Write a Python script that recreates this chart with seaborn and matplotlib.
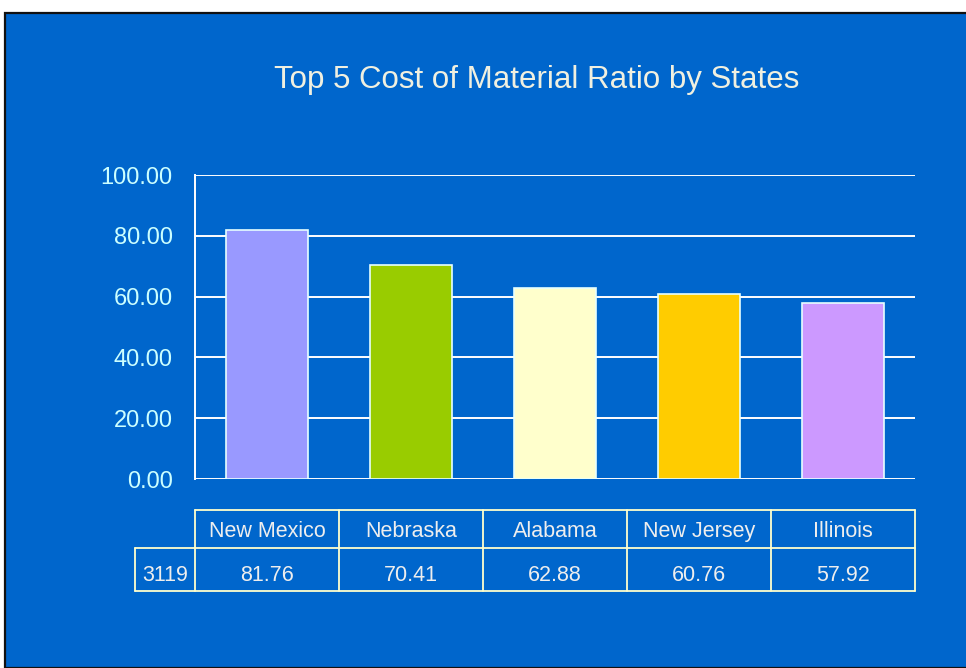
import matplotlib
matplotlib.use("Agg")
import matplotlib.pyplot as plt
from matplotlib.patches import Rectangle
import seaborn as sns
import pandas as pd

# Chart data
states = ["New Mexico", "Nebraska", "Alabama", "New Jersey", "Illinois"]
ratios = [81.76, 70.41, 62.88, 60.76, 57.92]
row_label = "3119"
bar_colors = ["#9999FF", "#99CC00", "#FFFFCC", "#FFCC00", "#CC99FF"]
y_ticks = [0, 20, 40, 60, 80, 100]
title = "Top 5 Cost of Material Ratio by States"

BG = "#0066CC"
TICK_COLOR = "#CCFFFF"
TEXT_COLOR = "#EEEEEE"
LINE_COLOR = "#FFFFCC"

sns.set_theme(style="white")
plt.rcParams["font.family"] = ["Liberation Sans", "DejaVu Sans"]

W, H = 966, 668
fig = plt.figure(figsize=(W / 100, H / 100), dpi=100, facecolor="white")

# Blue panel with dark border on the top/left
fig.patches.append(Rectangle((5 / W, 0), 1.0, 1 - 13 / H, transform=fig.transFigure,
                             facecolor=BG, edgecolor="#111111", linewidth=1.6,
                             zorder=-10))

def fx(px):
    return px / W

def fy(py):
    return 1 - py / H

# Main bar axes
ax = fig.add_axes([fx(195), fy(479), fx(915) - fx(195), fy(175) - fy(479)])
ax.set_facecolor("none")
ax.set_zorder(2)

df = pd.DataFrame({"state": states, "ratio": ratios})
sns.barplot(data=df, x="state", y="ratio", hue="state", palette=bar_colors,
            order=states, hue_order=states, width=0.57, legend=False,
            saturation=1, edgecolor="#E6FFFF", linewidth=1.2, ax=ax, zorder=3)

ax.set_ylim(0, 100)
ax.set_xlim(-0.5, len(states) - 0.5)
ax.set_yticks(y_ticks)
ax.set_yticklabels([f"{v:.2f}" for v in y_ticks])
ax.set_xticks([])
ax.set_xlabel("")
ax.set_ylabel("")
for v in y_ticks:
    ax.axhline(v, color="white", linewidth=1.4, zorder=1)
for side in ["top", "right", "bottom"]:
    ax.spines[side].set_visible(False)
ax.spines["left"].set_color("white")
ax.spines["left"].set_linewidth(1.4)
ax.tick_params(axis="y", colors="white", length=11, width=1.4, pad=5,
               labelsize=17, labelcolor=TICK_COLOR, direction="out")

fig.text(fx(537), fy(80), title, ha="center", va="center", fontsize=22.5,
         color="#F0F0E0", zorder=5)

# Data table beneath the bars, aligned to the same category scale
cat_px = 720 / len(states)
left_extra = 60 / cat_px
tax = fig.add_axes([fx(135), fy(591), fx(915) - fx(135), fy(510) - fy(591)])
tax.set_facecolor("none")
tax.set_zorder(2)
tax.set_xlim(-0.5 - left_extra, len(states) - 0.5)
tax.set_ylim(81, 0)
tax.axis("off")

lw = 1.3
x0 = -0.5 - left_extra
x1 = len(states) - 0.5
tax.plot([-0.5, x1], [0, 0], color=LINE_COLOR, lw=lw, clip_on=False)
tax.plot([x0, x1], [38, 38], color=LINE_COLOR, lw=lw, clip_on=False)
tax.plot([x0, x1], [81, 81], color=LINE_COLOR, lw=lw, clip_on=False)
tax.plot([x0, x0], [38, 81], color=LINE_COLOR, lw=lw, clip_on=False)
for i in range(len(states) + 1):
    xv = i - 0.5
    tax.plot([xv, xv], [0, 81], color=LINE_COLOR, lw=lw, clip_on=False)

fs = 15.5
for i, (s, v) in enumerate(zip(states, ratios)):
    tax.text(i, 27, s, ha="center", va="baseline", fontsize=fs, color=TEXT_COLOR)
    tax.text(i, 71, f"{v:.2f}", ha="center", va="baseline", fontsize=fs,
             color=TEXT_COLOR)
tax.text((x0 - 0.5) / 2, 71, row_label, ha="center", va="baseline", fontsize=fs,
         color=TEXT_COLOR)

fig.savefig("out.png", dpi=100, facecolor="white")
